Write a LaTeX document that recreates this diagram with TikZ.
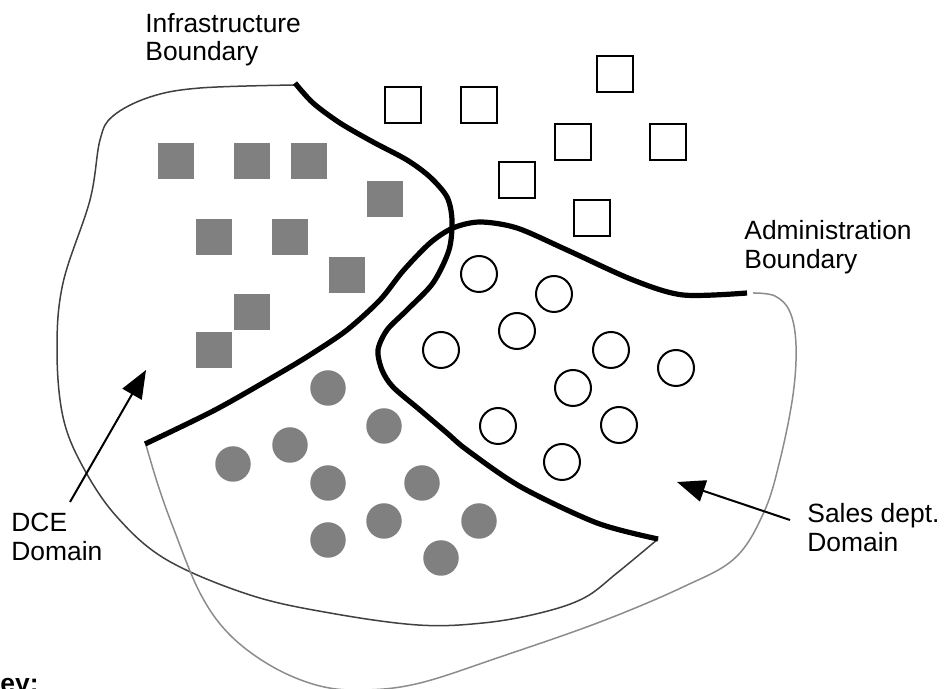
\documentclass[tikz,border=0pt]{standalone}
\usepackage{fontspec}
\setmainfont{Liberation Sans}
\usepackage{tikz}
\usetikzlibrary{arrows.meta}
\tikzset{boundary-line/.style={line width=2.6pt}}
\tikzset{domain-line/.style={line width=0.75pt, draw=black!75}}
\tikzset{sales-line/.style={domain-line, draw=black!45}}
\tikzset{host-square/.style={fill=gray, inner sep=0, minimum size=18pt}}
\tikzset{open-square/.style={draw, line width=1pt, inner sep=0, minimum size=18pt}}
\tikzset{host-circle/.style={host-square, circle, minimum size=17.75pt}}
\tikzset{open-circle/.style={open-square, circle}}
\tikzset{label-text/.style={inner sep=0, anchor=north west, align=left,
    font=\fontsize{13.2}{14.25}\selectfont}}
\tikzset{pointer-arrow/.style={-{Triangle[length=14pt, width=11pt]}, line width=1pt}}
\begin{document}
\begin{tikzpicture}[x=0.5pt, y=-0.5pt]
    \useasboundingbox (0,0) rectangle (950,689);

    % domains
    \draw[domain-line] plot[smooth, tension=0.6] coordinates {(295,85) (200,88) (150,97)
        (113,116) (100,140) (90,200) (63,283) (57,350) (63,417) (83,467) (117,517)
        (167,560) (250,595) (330,613) (418,625) (483,623) (540,613) (584,598) (617,573) (658,539)};
    \draw[sales-line] plot[smooth, tension=0.6] coordinates {(753,293) (775,296) (790,312)
        (796,345) (793,395) (780,460) (764,512) (735,558) (683,587) (600,622) (500,657)
        (420,683) (365,690) (320,686) (273,667) (230,635) (200,593) (173,527) (158,485) (146,445)};

    % boundaries
    \draw[boundary-line] plot[smooth, tension=0.5] coordinates {(295,83) (313,103) (340,123)
        (373,142) (407,160) (430,177) (447,197) (452,220) (449,250) (433,283) (407,310)
        (387,330) (378,350) (382,370) (393,387) (420,410) (447,433) (467,450) (521,487)
        (597,523) (658,539)};
    \draw[boundary-line] plot[smooth, tension=0.5] coordinates {(145,444) (215,410) (280,373)
        (313,353) (347,330) (380,300) (403,271) (430,243) (453,228) (480,222) (517,228)
        (567,250) (633,280) (683,295) (747,293)};

    % hosts
    \foreach \x/\y [count=\i] in {176/161, 252/161, 309/161, 385/199, 214/237,
                                  290/237, 347/275, 252/312, 214/350}
        \node[host-square] (dce\i) at (\x,\y) {};
    \foreach \x/\y [count=\i] in {403/105, 479/105, 615/74, 573/142, 668/142,
                                  517/180, 592/218}
        \node[open-square] (free\i) at (\x,\y) {};
    \foreach \x/\y [count=\i] in {479/274, 554/294, 517/331, 441/350, 611/350,
                                  676/368, 573/388, 498/426, 619/425, 562/462}
        \node[open-circle] (sales\i) at (\x,\y) {};
    \foreach \x/\y [count=\i] in {328/388, 384/426, 290/445, 233/464, 328/483,
                                  422/483, 384/521, 479/521, 328/540, 441/558}
        \node[host-circle] (both\i) at (\x,\y) {};

    % labels
    \node[label-text] (infra-label) at (145,13) {Infrastructure\\Boundary};
    \node[label-text] (admin-label) at (744,220) {Administration\\Boundary};
    \node[label-text] (sales-label) at (807,503) {Sales dept.\\Domain};
    \node[label-text] (dce-label) at (11,513) {DCE\\Domain};
    \node[label-text, anchor=base west, font=\fontsize{13.2}{14.25}\selectfont\bfseries]
        (key-label) at (-19,693) {Key:};

    \coordinate (dce-tail) at (70,502);
    \coordinate (dce-tip) at (146,370);
    \coordinate (sales-tail) at (790,520);
    \coordinate (sales-tip) at (677,482);
    \draw[pointer-arrow] (dce-tail) -- (dce-tip);
    \draw[pointer-arrow] (sales-tail) -- (sales-tip);
\end{tikzpicture}
\end{document}
